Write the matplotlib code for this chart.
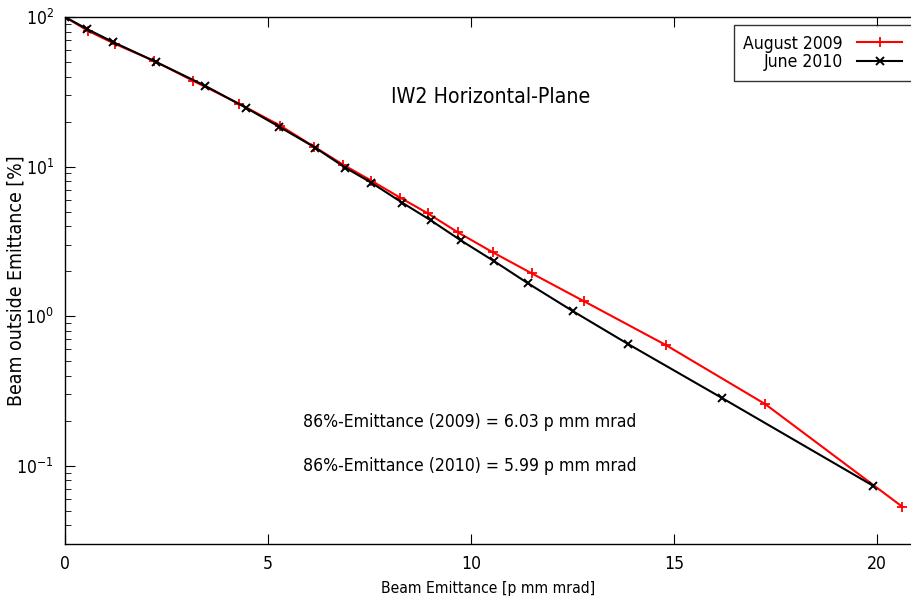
import numpy as np
import matplotlib.pyplot as plt
from matplotlib import font_manager
from matplotlib.ticker import LogLocator, FixedLocator

# pick a narrow font if one is installed
names = {f.name for f in font_manager.fontManager.ttflist}
narrow = [f for f in font_manager.fontManager.ttflist
          if f.name == 'DejaVu Sans' and str(f.stretch) in ('condensed', '500', 'semi-condensed')]
if 'Liberation Sans Narrow' in names:
    fam, stretch, scale = 'Liberation Sans Narrow', 'normal', 1.0
elif narrow:
    fam, stretch, scale = 'DejaVu Sans', 'condensed', 0.9
else:
    fam, stretch, scale = 'Lato', 'normal', 0.95
plt.rcParams['font.family'] = [fam, 'DejaVu Sans']
plt.rcParams['font.stretch'] = stretch

# August 2009 measurement
x_2009 = [0, 0.57, 1.23, 2.19, 3.15, 4.29, 5.30, 6.13, 6.85, 7.54, 8.25,
          8.94, 9.68, 10.54, 11.50, 12.78, 14.80, 17.24, 20.62]
y_2009 = [100, 80.7, 66.1, 50.9, 37.5, 26.3, 18.8, 13.6, 10.3, 8.06, 6.21,
          4.86, 3.63, 2.67, 1.93, 1.26, 0.641, 0.259, 0.0533]

# June 2010 measurement
x_2010 = [0, 0.54, 1.18, 2.24, 3.45, 4.46, 5.27, 6.16, 6.90, 7.54, 8.30,
          9.01, 9.75, 10.57, 11.40, 12.51, 13.87, 16.18, 19.90]
y_2010 = [100, 83.2, 68.1, 50.1, 34.7, 24.7, 18.5, 13.4, 9.85, 7.82, 5.75,
          4.37, 3.21, 2.33, 1.66, 1.08, 0.651, 0.284, 0.0736]

x_ticks = [0, 5, 10, 15, 20]

fig = plt.figure(figsize=(9.12, 6.03), dpi=100)
ax = fig.add_axes([0.0713, 0.0978, 0.9287, 0.874])

ax.plot(x_2009, y_2009, color='red', lw=1.5, marker='+', ms=7, mew=1.3,
        label='August 2009')
ax.plot(x_2010, y_2010, color='black', lw=1.5, marker='x', ms=5.5, mew=1.4,
        label='June 2010')

ax.set_yscale('log')
ax.set_xlim(0, 20.86)
ax.set_ylim(0.03, 100)
ax.xaxis.set_major_locator(FixedLocator(x_ticks))
ax.yaxis.set_major_locator(LogLocator(base=10, numticks=10))
ax.yaxis.set_minor_locator(LogLocator(base=10, subs=np.arange(2, 10), numticks=10))
ax.yaxis.set_minor_formatter(plt.NullFormatter())

ax.tick_params(which='both', direction='in', top=True, right=False,
               labelsize=14 * scale, pad=8)
ax.tick_params(which='major', length=7)
ax.tick_params(which='minor', length=4)
for s in ax.spines.values():
    s.set_linewidth(1.0)

ax.set_xlabel('Beam Emittance [p mm mrad]', fontsize=12.5 * scale, labelpad=6)
ax.set_ylabel('Beam outside Emittance [%]', fontsize=15.5 * scale)
ax.yaxis.set_label_coords(-0.047, 0.5)

ax.text(0.502, 0.848, 'IW2 Horizontal-Plane', transform=ax.transAxes,
        ha='center', va='center', fontsize=17 * scale)
ax.text(0.478, 0.2315, '86%-Emittance (2009) = 6.03 p mm mrad',
        transform=ax.transAxes, ha='center', va='center', fontsize=14 * scale)
ax.text(0.478, 0.148, '86%-Emittance (2010) = 5.99 p mm mrad',
        transform=ax.transAxes, ha='center', va='center', fontsize=14 * scale)

leg = ax.legend(loc='upper right', bbox_to_anchor=(1.0, 0.985),
                markerfirst=False, fancybox=False, fontsize=14 * scale,
                borderaxespad=0, handlelength=2.6, labelspacing=0.05,
                borderpad=0.55)
leg.get_frame().set_edgecolor('black')
leg.get_frame().set_linewidth(1.0)
leg._legend_box.align = 'right'

fig.savefig('out.png', dpi=100)
